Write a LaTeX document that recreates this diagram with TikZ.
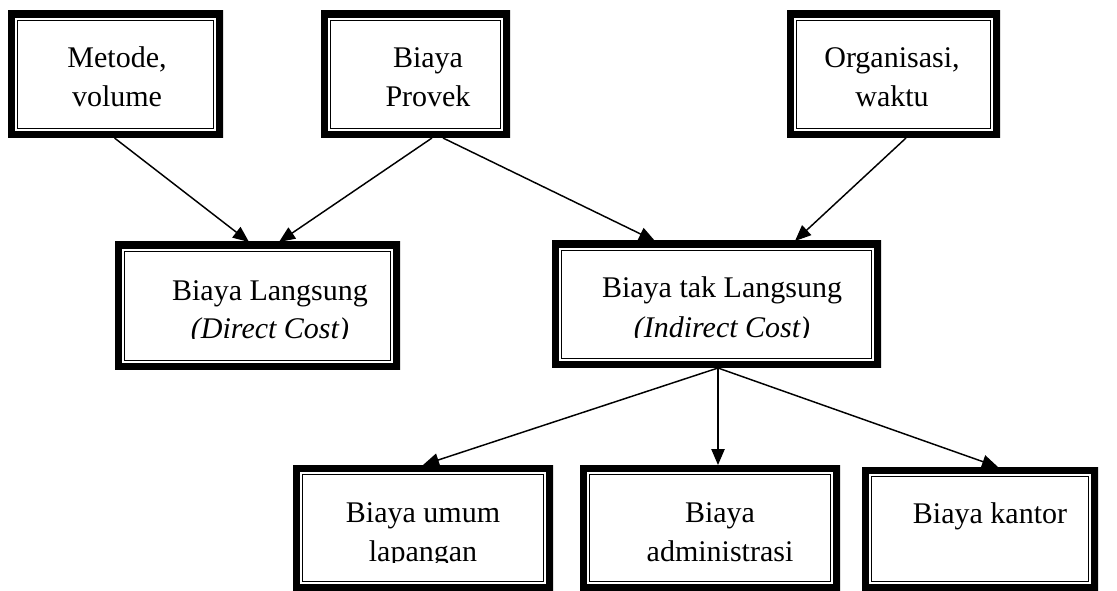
\documentclass[tikz,border=0pt]{standalone}
\usepackage{fontspec}
\setmainfont{Liberation Serif}
\usetikzlibrary{arrows.meta,fit,calc}
\begin{document}
\begin{tikzpicture}[x=0.75pt,y=-0.75pt,
  % thick-thin double frame, drawn inside the node outline
  frame/.style={draw=none, inner sep=0pt, outer sep=0pt,
    path picture={
      \draw[line width=10pt]
        (path picture bounding box.north west) rectangle (path picture bounding box.south east);
      \draw[line width=1.1pt]
        ([shift={(7.0pt,-7.0pt)}]path picture bounding box.north west) rectangle
        ([shift={(-7.0pt,7.0pt)}]path picture bounding box.south east);
    }},
  txt/.style={font=\fontsize{22.5}{27}\selectfont, anchor=base, inner sep=0pt},
  link/.style={line width=1.1pt, -{Triangle[length=12pt,width=10pt]}}
]
\useasboundingbox (0,0) rectangle (1117,591);

% top row
\node[frame, fit={(8,11) (223,138)}] (b1) {};
\node[frame, fit={(321,11) (510,138)}] (b2) {};
\node[frame, fit={(787,11) (1000,138)}] (b3) {};
% middle row
\node[frame, fit={(115,242) (400,370)}] (b4) {};
\node[frame, fit={(552,241) (881,368)}] (b5) {};
% bottom row
\node[frame, fit={(293,465) (553,591)}] (b6) {};
\node[frame, fit={(580,465) (840,591)}] (b7) {};
\node[frame, fit={(862,467) (1098,591)}] (b8) {};

% box texts, cut off at the lower text margin
\begin{scope}
  \clip (8,11) rectangle (223,108);
  \node[txt] (t1a) at (117,68) {Metode,};
  \node[txt] (t1b) at (117,107) {volume};
\end{scope}
\begin{scope}
  \clip (321,11) rectangle (510,108);
  \node[txt] (t2a) at (428,68) {Biaya};
  \node[txt] (t2b) at (428,107) {Provek};
\end{scope}
\begin{scope}
  \clip (787,11) rectangle (1000,108);
  \node[txt] (t3a) at (892,68) {Organisasi,};
  \node[txt] (t3b) at (892,107) {waktu};
\end{scope}
\begin{scope}
  \clip (115,242) rectangle (400,339);
  \node[txt] (t4a) at (270,301) {Biaya Langsung};
  \node[txt] (t4b) at (270,339) {\itshape (Direct Cost)};
\end{scope}
\begin{scope}
  \clip (552,241) rectangle (881,338);
  \node[txt] (t5a) at (722,298) {Biaya tak Langsung};
  \node[txt] (t5b) at (722,338) {\itshape (Indirect Cost)};
\end{scope}
\begin{scope}
  \clip (293,465) rectangle (553,562);
  \node[txt] (t6a) at (423,522) {Biaya umum};
  \node[txt] (t6b) at (423,561) {lapangan};
\end{scope}
\begin{scope}
  \clip (580,465) rectangle (840,562);
  \node[txt] (t7a) at (720,522) {Biaya};
  \node[txt] (t7b) at (720,561) {administrasi};
\end{scope}
\begin{scope}
  \clip (862,467) rectangle (1098,562);
  \node[txt] (t8a) at (990,523) {Biaya kantor};
\end{scope}

% connectors
\draw[link] ($(b1.south)+(-1,0)$) -- ($(b4.north)+(-8.5,0)$);
\draw[link] ($(b2.south)+(16.5,0)$) -- ($(b4.north)+(21.5,0)$);
\draw[link] ($(b2.south)+(27.5,0)$) -- ($(b5.north)+(-61.5,0)$);
\draw[link] ($(b3.south)+(12.5,0)$) -- ($(b5.north)+(78.5,0)$);
\draw[link] ($(b5.south)+(1.5,0)$) -- ($(b6.north)+(0,0)$);
\draw[link] ($(b5.south)+(1.5,0)$) -- ($(b7.north)+(8,0)$);
\draw[link] ($(b5.south)+(1.5,0)$) -- ($(b8.north)+(18,0)$);
\end{tikzpicture}
\end{document}
